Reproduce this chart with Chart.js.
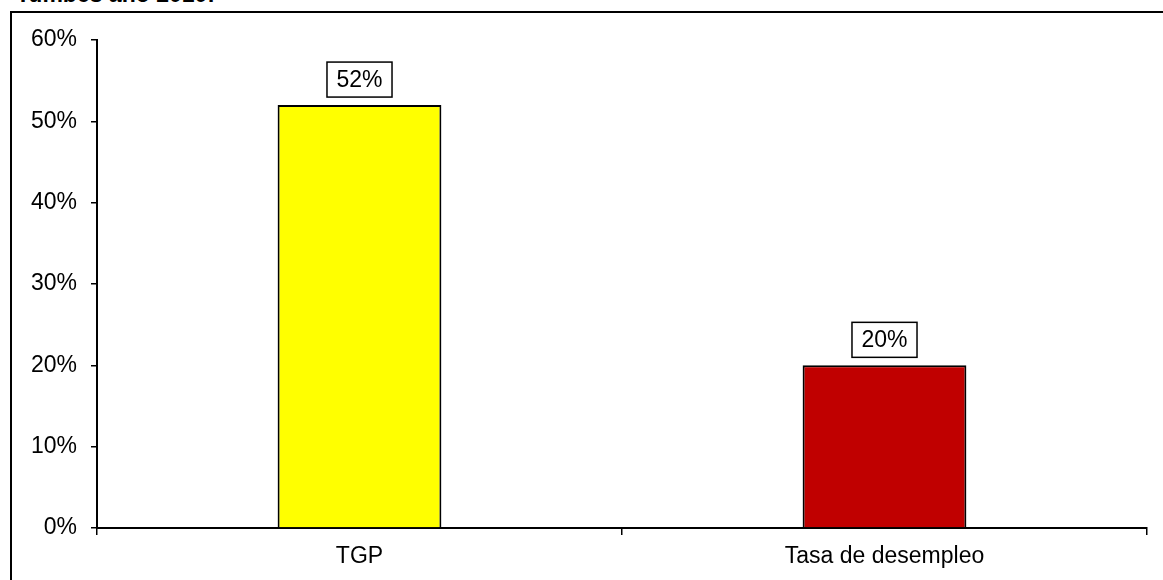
<!DOCTYPE html>
<html>
<head>
<meta charset="utf-8">
<script src="https://cdn.jsdelivr.net/npm/chart.js@4.4.0/dist/chart.umd.min.js"></script>
<style>
  html, body { margin: 0; padding: 0; background: #fff; overflow: hidden; }
  #wrap { position: relative; width: 1163px; height: 580px; }
  #title {
    position: absolute; left: 16px; top: -19px;
    font: bold 23px "Liberation Sans", Arial, sans-serif; color: #000;
    white-space: nowrap;
  }
  #frame {
    position: absolute; left: 10px; top: 11px; width: 1200px; height: 620px;
    border: 2px solid #000; box-sizing: border-box;
  }
  #chartCanvas { position: absolute; left: 0; top: 0; }
</style>
</head>
<body>
<div id="wrap">
  <div id="title">Tumbes año 2010:</div>
  <div id="frame"></div>
  <canvas id="chartCanvas" width="1163" height="580"></canvas>
</div>
<script>
// chart data
const categories = ['TGP', 'Tasa de desempleo'];
const values = [52, 20];
const barColors = ['#FFFF00', '#C00000'];
const yTicks = [0, 10, 20, 30, 40, 50, 60];

const FONT = '"Liberation Sans", Arial, sans-serif';

// boxed value labels above each bar
const boxLabels = {
  id: 'boxLabels',
  afterDatasetsDraw(chart) {
    const ctx = chart.ctx;
    const meta = chart.getDatasetMeta(0);
    ctx.save();
    ctx.font = '23px ' + FONT;
    ctx.textAlign = 'center';
    ctx.textBaseline = 'middle';
    meta.data.forEach((bar, i) => {
      const text = values[i] + '%';
      const w = ctx.measureText(text).width + 19;
      const h = 35;
      const x = bar.x - w / 2;
      const y = bar.y - 8 - h;
      ctx.fillStyle = '#fff';
      ctx.fillRect(x, y, w, h);
      ctx.strokeStyle = '#000';
      ctx.lineWidth = 1.5;
      ctx.strokeRect(x, y, w, h);
      ctx.fillStyle = '#000';
      ctx.fillText(text, bar.x, y + h / 2 + 1);
    });
    ctx.restore();
  }
};

new Chart(document.getElementById('chartCanvas').getContext('2d'), {
  type: 'bar',
  data: {
    labels: categories,
    datasets: [{
      data: values,
      backgroundColor: barColors,
      borderColor: '#000',
      borderWidth: 2,
      barPercentage: 0.312,
      categoryPercentage: 1
    }]
  },
  options: {
    responsive: false,
    animation: false,
    layout: { padding: { top: 40, right: 16, left: 0, bottom: 0 } },
    plugins: { legend: { display: false }, tooltip: { enabled: false } },
    scales: {
      x: {
        grid: { display: true, drawOnChartArea: false, offset: true, tickLength: 7, color: '#000', lineWidth: 1.5 },
        border: { display: true, color: '#000', width: 2 },
        ticks: { color: '#000', font: { family: FONT, size: 23 }, padding: 8 },
        afterFit(scale) { scale.height = 52; }
      },
      y: {
        min: 0,
        max: 60,
        afterBuildTicks(scale) { scale.ticks = yTicks.map(v => ({ value: v })); },
        grid: { display: true, drawOnChartArea: false, tickLength: 6, color: '#000', lineWidth: 1.5 },
        border: { display: true, color: '#000', width: 2 },
        ticks: {
          color: '#000', font: { family: FONT, size: 23 }, padding: 14,
          callback: (v) => v + '%'
        },
        afterFit(scale) { scale.width = 97; }
      }
    }
  },
  plugins: [boxLabels]
});
</script>
</body>
</html>
